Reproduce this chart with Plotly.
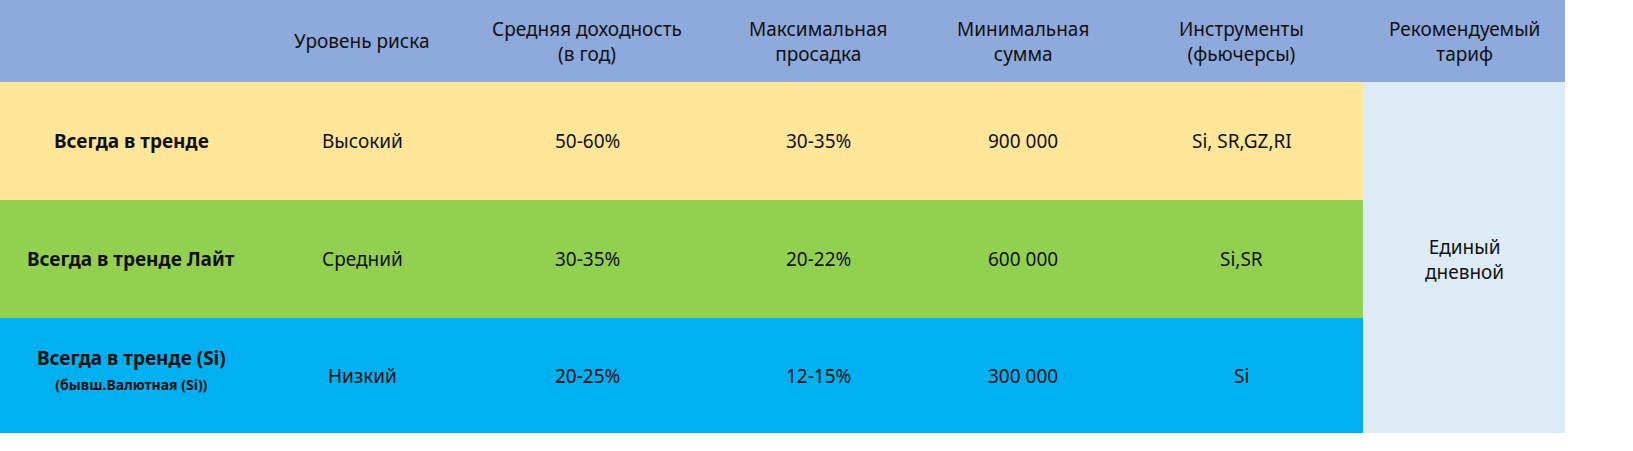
import plotly.graph_objects as go

headers = ["", "Уровень риска", "Средняя доходность<br>(в год)", "Максимальная<br>просадка",
           "Минимальная<br>сумма", "Инструменты<br>(фьючерсы)", "Рекомендуемый<br>тариф"]
strategies = ["<b>Всегда в тренде</b>", "<b>Всегда в тренде Лайт</b>",
              "<b>Всегда в тренде (Si)</b><br><span style='font-size:14px'><b>(бывш.Валютная (Si))</b></span>"]
risk = ["Высокий", "Средний", "Низкий"]
returns = ["50-60%", "30-35%", "20-25%"]
drawdown = ["30-35%", "20-22%", "12-15%"]
min_sum = ["900 000", "600 000", "300 000"]
instruments = ["Si, SR,GZ,RI", "Si,SR", "Si"]
tariff = "Единый<br>дневной"

col_edges = [0, 262, 462, 712, 925, 1120, 1363, 1565]
row_edges = [0, 82, 200, 318, 433]

# colour codes: 0 header, 1 yellow, 2 green, 3 blue, 4 tariff column
z = [[0] * 7,
     [1] * 6 + [4],
     [2] * 6 + [4],
     [3] * 6 + [4]]
colors = ["#8EA9DB", "#FFE699", "#92D050", "#00B0F0", "#DDEBF7"]
scale = []
for i, c in enumerate(colors):
    scale += [[i / 5, c], [(i + 1) / 5, c]]

fig = go.Figure(go.Heatmap(x=col_edges, y=row_edges, z=z, zmin=0, zmax=5,
                           colorscale=scale, showscale=False, hoverinfo="skip"))

cx = [(a + b) / 2 for a, b in zip(col_edges[:-1], col_edges[1:])]
cy = [(a + b) / 2 for a, b in zip(row_edges[:-1], row_edges[1:])]

for j, h in enumerate(headers):
    fig.add_annotation(x=cx[j], y=cy[0], text=h, showarrow=False)
columns = [strategies, risk, returns, drawdown, min_sum, instruments]
for j, col in enumerate(columns):
    for i, t in enumerate(col):
        fig.add_annotation(x=cx[j], y=cy[i + 1] - (6 if j == 0 and i == 2 else 0),
                           text=t, showarrow=False)
fig.add_annotation(x=cx[6], y=cy[2], text=tariff, showarrow=False)

fig.update_annotations(font=dict(family="Noto Sans", size=19, color="#111111"))
fig.update_layout(width=1633, height=451, autosize=False, margin=dict(l=0, r=0, t=0, b=0),
                  plot_bgcolor="white", paper_bgcolor="white",
                  xaxis=dict(range=[0, 1633], visible=False, fixedrange=True),
                  yaxis=dict(range=[451, 0], visible=False, fixedrange=True))
fig.write_html("out.html", config={"displayModeBar": False},
               post_script="document.body.style.margin='0';document.body.style.overflow='hidden';")
